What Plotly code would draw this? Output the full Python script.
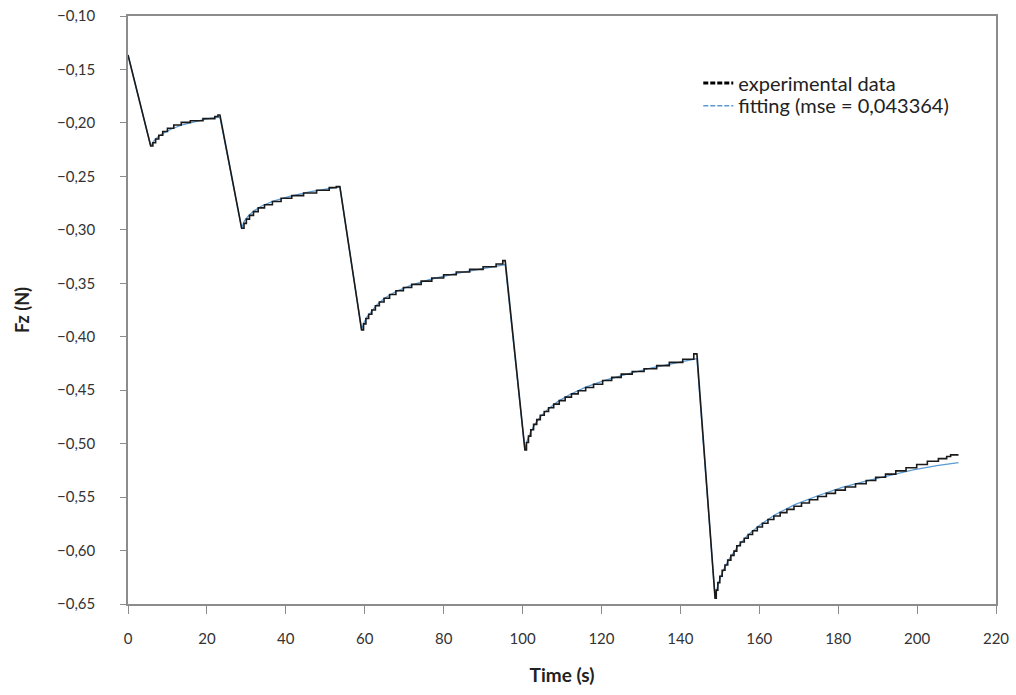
import plotly.graph_objects as go

# ---------------- data ----------------
start_t = 0.0
start_v = -0.1365

# minima reached at the end of each loading ramp
min_t = [5.75, 28.8, 59.2, 100.6, 148.8]
min_v = [-0.2216, -0.2985, -0.3936, -0.5058, -0.6445]

# end of each relaxation (start of the next ramp)
end_t = [23.3, 53.7, 95.6, 144.2, 210.5]
end_v = [-0.1926, -0.2596, -0.3288, -0.4160, -0.5105]

# quantised (staircase) relaxation levels of the experimental signal
seg1_step_t = [6.3, 7.0, 7.8, 8.8, 10.0, 11.6, 13.5, 15.8, 19.0, 22.0, 22.8]
seg1_step_v = [-0.2185, -0.2150, -0.2115, -0.2080, -0.2050, -0.2020, -0.1995, -0.1980, -0.1960, -0.1940, -0.1926]

seg2_step_t = [29.4, 30.0, 30.8, 31.8, 33.0, 34.6, 36.6, 38.8, 41.5, 44.5, 47.8, 51.0, 52.8]
seg2_step_v = [-0.2940, -0.2900, -0.2865, -0.2830, -0.2795, -0.2765, -0.2735, -0.2705, -0.2680,
               -0.2655, -0.2630, -0.2605, -0.2596]

seg3_step_t = [59.7, 60.3, 61.0, 61.8, 62.7, 63.7, 64.9, 66.3, 67.9, 69.8, 71.9, 74.3, 77.0,
               80.0, 83.2, 86.6, 90.0, 93.3, 95.0]
seg3_step_v = [-0.3880, -0.3830, -0.3790, -0.3750, -0.3710, -0.3675, -0.3640, -0.3605, -0.3570,
               -0.3540, -0.3510, -0.3480, -0.3450, -0.3420, -0.3395, -0.3370, -0.3345, -0.3320, -0.3288]

seg4_step_t = [101.0, 101.5, 102.1, 102.8, 103.6, 104.5, 105.5, 106.6, 107.9, 109.3, 110.8, 112.4,
               114.1, 116.0, 118.0, 120.3, 122.6, 125.0, 127.8, 130.8, 134.0, 137.2, 140.6, 143.4]
seg4_step_v = [-0.4990, -0.4930, -0.4870, -0.4820, -0.4775, -0.4735, -0.4700, -0.4665, -0.4630,
               -0.4598, -0.4565, -0.4535, -0.4505, -0.4475, -0.4445, -0.4410, -0.4380, -0.4350,
               -0.4325, -0.4300, -0.4270, -0.4240, -0.4210, -0.4160]

seg5_step_t = [149.1, 149.5, 150.0, 150.6, 151.3, 152.0, 152.8, 153.6, 154.3, 155.2, 156.2, 157.2,
               158.3, 159.5, 160.8, 162.2, 163.7, 165.3, 167.0, 168.8, 170.7, 172.7, 174.8, 177.0,
               179.3, 181.8, 184.4, 187.1, 189.5, 192.0, 194.6, 197.2, 199.9, 202.6, 205.4, 207.5, 208.5]
seg5_step_v = [-0.6370, -0.6300, -0.6240, -0.6185, -0.6135, -0.6090, -0.6045, -0.6005, -0.5955,
               -0.5920, -0.5885, -0.5850, -0.5815, -0.5780, -0.5745, -0.5710, -0.5677, -0.5645,
               -0.5615, -0.5585, -0.5555, -0.5525, -0.5495, -0.5465, -0.5435, -0.5405, -0.5375,
               -0.5345, -0.5315, -0.5285, -0.5255, -0.5225, -0.5195, -0.5165, -0.5140, -0.5120, -0.5105]

# fitted model curve
fit_t = [0, 5.75, 6.5, 7.5, 9, 11, 14, 17, 20, 23.3,
         28.8, 29.5, 30.5, 32, 34, 37, 41, 46, 50, 53.7,
         59.2, 59.8, 60.6, 61.6, 63, 65, 68, 72, 77, 83, 89, 95.6,
         100.6, 101.2, 102, 103, 104.5, 106.5, 109, 112, 116, 121, 127, 133, 139, 144.2,
         148.8, 149.4, 150.2, 151.2, 152.5, 154.5, 157, 160, 164, 169, 175, 181, 187, 193, 199, 205, 210.5]
fit_v = [-0.1365, -0.2216, -0.2170, -0.2135, -0.2095, -0.2057, -0.2015, -0.1985, -0.1962, -0.1945,
         -0.2985, -0.2915, -0.2870, -0.2820, -0.2775, -0.2730, -0.2688, -0.2645, -0.2618, -0.2598,
         -0.3936, -0.3870, -0.3815, -0.3765, -0.3705, -0.3640, -0.3575, -0.3515, -0.3460, -0.3410, -0.3368, -0.3325,
         -0.5058, -0.4970, -0.4895, -0.4825, -0.4750, -0.4675, -0.4605, -0.4540, -0.4472, -0.4405, -0.4345,
         -0.4290, -0.4245, -0.4205,
         -0.6445, -0.6340, -0.6245, -0.6160, -0.6070, -0.5965, -0.5860, -0.5765, -0.5665, -0.5570, -0.5485,
         -0.5410, -0.5350, -0.5295, -0.5245, -0.5205, -0.5177]

x_ticks = [0, 20, 40, 60, 80, 100, 120, 140, 160, 180, 200, 220]
y_ticks = [-0.10, -0.15, -0.20, -0.25, -0.30, -0.35, -0.40, -0.45, -0.50, -0.55, -0.60, -0.65]

# ---------------- build experimental trace vertices ----------------
step_t_all = [seg1_step_t, seg2_step_t, seg3_step_t, seg4_step_t, seg5_step_t]
step_v_all = [seg1_step_v, seg2_step_v, seg3_step_v, seg4_step_v, seg5_step_v]

exp_x = [start_t]
exp_y = [start_v]
for k in range(5):
    exp_x.append(min_t[k]); exp_y.append(min_v[k])
    prev = min_v[k]
    for t, v in zip(step_t_all[k], step_v_all[k]):
        exp_x += [t, t]
        exp_y += [prev, v]
        prev = v
    exp_x.append(end_t[k]); exp_y.append(end_v[k])

# ---------------- figure ----------------
fig = go.Figure()
fig.add_trace(go.Scatter(x=fit_t, y=fit_v, mode="lines",
                         line=dict(color="#5B9BD5", width=1.3), showlegend=False, hoverinfo="skip"))
fig.add_trace(go.Scatter(x=exp_x, y=exp_y, mode="lines",
                         line=dict(color="#1a1a1a", width=1.6), showlegend=False))
# legend entries
fig.add_trace(go.Scatter(x=[None], y=[None], mode="lines", name="experimental data", legend="legend",
                         line=dict(color="#000000", width=3, dash="5px,2px")))
fig.add_trace(go.Scatter(x=[None], y=[None], mode="lines", name="fitting (mse = 0,043364)", legend="legend2",
                         line=dict(color="#5B9BD5", width=1.5, dash="5px,2px")))

axis_col = "#8c8c8c"
leg_font = dict(size=20, color="#222222", family="Lato")
fig.update_layout(
    width=1016, height=695,
    margin=dict(l=128, r=20, t=16, b=91),
    paper_bgcolor="white", plot_bgcolor="white",
    separators=", ",
    font=dict(family="Lato, 'Open Sans', sans-serif", color="#404040", size=14),
    showlegend=True,
    legend=dict(x=0.657, y=0.886, xanchor="left", yanchor="middle",
                font=leg_font, bgcolor="rgba(0,0,0,0)", itemwidth=30),
    legend2=dict(x=0.657, y=0.8475, xanchor="left", yanchor="middle",
                 font=leg_font, bgcolor="rgba(0,0,0,0)", itemwidth=30),
    xaxis=dict(range=[0, 220], tickvals=x_ticks, ticks="outside", ticklen=8, tickcolor=axis_col,
               showline=True, linecolor=axis_col, linewidth=1.5, mirror=True, showgrid=False,
               zeroline=False, tickfont=dict(size=15, color="#333333"), automargin=False,
               title=dict(text="<b>Time (s)</b>", font=dict(size=19, color="#222222"), standoff=23),
               ticklabelstandoff=12),
    yaxis=dict(range=[-0.65, -0.10], tickvals=y_ticks, tickformat=".2f", ticks="outside",
               ticklen=6, tickcolor=axis_col, automargin=False,
               showline=True, linecolor=axis_col, linewidth=1.5, mirror=True, showgrid=False,
               zeroline=False, tickfont=dict(size=15, color="#333333"),
               title=dict(text="<b>Fz (N)</b>", font=dict(size=18, color="#222222"), standoff=23),
               ticklabelstandoff=22),
)

fig.write_html("out.html")
